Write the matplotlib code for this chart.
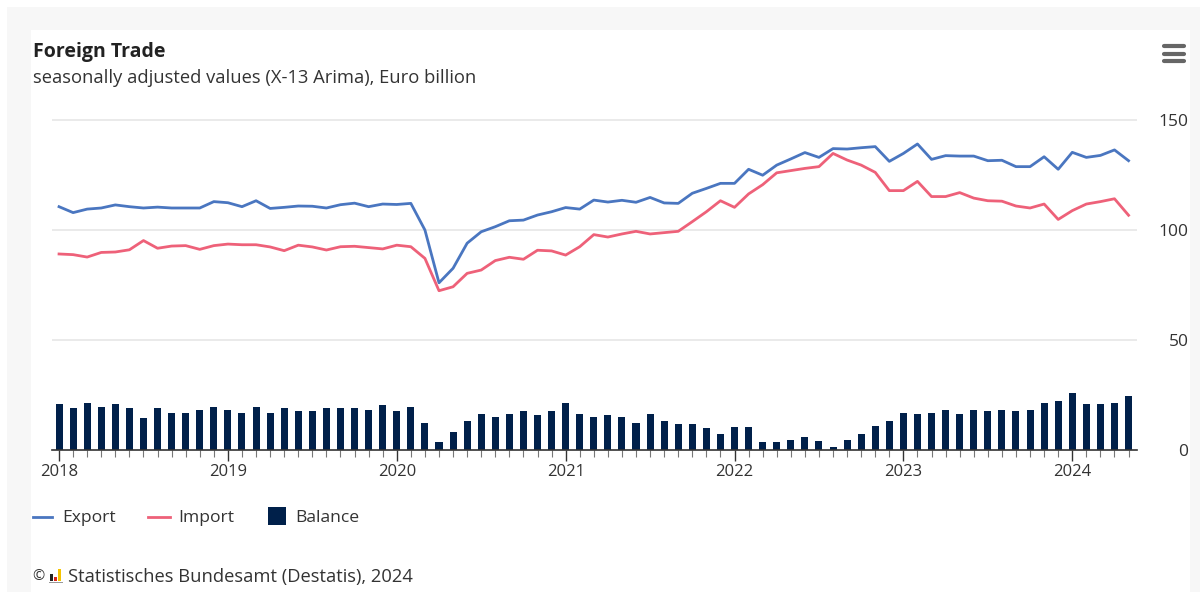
import numpy as np
import matplotlib
matplotlib.use("Agg")
import matplotlib.pyplot as plt
from matplotlib.patches import Rectangle
from matplotlib.lines import Line2D

# monthly values, Jan 2018 - May 2024, EUR billion
export = [110.6, 107.9, 109.5, 110.0, 111.4, 110.6, 110.0, 110.4, 110.0, 110.0, 110.0, 112.9,
          112.4, 110.6, 113.3, 109.8, 110.3, 110.9, 110.8, 110.0, 111.5, 112.2, 110.6, 111.8,
          111.6, 112.1, 100.0, 76.0, 82.6, 94.0, 99.2, 101.5, 104.2, 104.5, 106.8, 108.3,
          110.2, 109.5, 113.6, 112.7, 113.5, 112.6, 114.8, 112.3, 112.1, 116.7, 118.9, 121.2,
          121.2, 127.6, 124.9, 129.5, 132.3, 135.2, 133.0, 137.0, 136.8, 137.4, 137.9, 131.2,
          134.8, 139.1, 132.1, 133.8, 133.6, 133.6, 131.5, 131.7, 128.8, 128.8, 133.3, 127.6,
          135.3, 133.0, 133.9, 136.4, 131.5]
imports = [89.1, 88.8, 87.7, 89.8, 90.0, 91.0, 95.2, 91.7, 92.7, 92.9, 91.2, 92.9,
           93.6, 93.3, 93.3, 92.3, 90.6, 93.1, 92.3, 90.9, 92.4, 92.6, 92.0, 91.4,
           93.1, 92.4, 87.1, 72.4, 74.2, 80.3, 81.8, 86.1, 87.6, 86.7, 90.8, 90.5,
           88.6, 92.4, 97.9, 96.8, 98.2, 99.4, 98.2, 98.8, 99.4, 103.8, 108.3, 113.3,
           110.3, 116.4, 120.6, 126.0, 127.0, 128.0, 128.8, 134.8, 131.8, 129.5, 126.2, 117.9,
           117.9, 122.1, 115.2, 115.2, 117.0, 114.5, 113.3, 113.1, 110.9, 110.0, 111.8, 104.8,
           108.8, 111.8, 112.9, 114.2, 106.7]
balance = [20.9, 18.9, 21.5, 19.5, 20.9, 18.9, 14.4, 18.9, 17.0, 17.0, 18.2, 19.5,
           18.2, 17.0, 19.5, 17.0, 18.9, 17.6, 17.6, 18.9, 18.9, 18.9, 18.2, 20.3,
           17.6, 19.5, 12.4, 3.5, 8.0, 13.2, 16.4, 15.0, 16.4, 17.6, 15.8, 17.6,
           21.5, 16.4, 15.0, 15.8, 15.0, 12.4, 16.4, 13.2, 11.8, 11.8, 9.8, 7.3,
           10.5, 10.5, 3.5, 3.5, 4.7, 5.8, 3.9, 1.4, 4.7, 7.3, 11.0, 13.0,
           17.0, 16.4, 17.0, 18.2, 16.4, 18.2, 17.6, 18.2, 17.6, 18.2, 21.5, 22.1,
           26.0, 20.9, 20.9, 21.5, 24.7]
years = ["2018", "2019", "2020", "2021", "2022", "2023", "2024"]
y_ticks = [0, 50, 100, 150]

EXPORT_C = "#4a76c0"
IMPORT_C = "#ee6179"
BAL_C = "#00204a"
TXT_C = "#333333"

plt.rcParams['font.family'] = ['Open Sans', 'DejaVu Sans']

W, H = 1200, 592
fig = plt.figure(figsize=(W / 100, H / 100), dpi=100, facecolor="white")


def px(x, y):
    # pixel (from top-left) -> figure fraction
    return x / W, 1 - y / H


# background frame
fig.patches.append(Rectangle(px(7, 592), (W - 7) / W, (592 - 7) / H, transform=fig.transFigure,
                             facecolor="#f7f7f7", edgecolor="none", zorder=-10))
fig.patches.append(Rectangle(px(31, 592), (1190 - 31) / W, (592 - 30) / H, transform=fig.transFigure,
                             facecolor="white", edgecolor="none", zorder=-9))

x = np.arange(len(export))
left, right = px(52, 0)[0], px(1137, 0)[0]
bottom, top = px(0, 450)[1], px(0, 109)[1]
ax = fig.add_axes([left, bottom, right - left, top - bottom])
ax.set_facecolor("none")

ax.bar(x, balance, width=0.5, color=BAL_C, zorder=2)
ax.plot(x, export, color=EXPORT_C, lw=2, zorder=3)
ax.plot(x, imports, color=IMPORT_C, lw=2, zorder=3)

ax.set_xlim(-0.5, 76.6)
ax.set_ylim(0, 155)
for v in y_ticks[1:]:
    ax.axhline(v, color="#e6e6e6", lw=1.2, zorder=0)

for s in ["top", "right", "left"]:
    ax.spines[s].set_visible(False)
ax.spines["bottom"].set_color("#333333")
ax.spines["bottom"].set_linewidth(1.2)

ax.set_xticks(np.arange(len(years)) * 12)
ax.set_xticklabels(years)
ax.set_xticks(x, minor=True)
ax.tick_params(axis="x", which="major", length=8, width=1, color="#333333",
               labelsize=12, labelcolor=TXT_C, pad=2)
ax.tick_params(axis="x", which="minor", length=5, width=0.8, color="#777777")

ax.yaxis.tick_right()
ax.set_yticks(y_ticks)
ax.tick_params(axis="y", length=0, labelsize=12.5, labelcolor=TXT_C, pad=37)
for lab in ax.get_yticklabels():
    lab.set_horizontalalignment("right")

# titles
fig.text(*px(33, 52), "Foreign Trade", fontsize=14, fontweight="bold", color="#222222", va="center")
fig.text(*px(33, 78), "seasonally adjusted values (X-13 Arima), Euro billion", fontsize=13.2,
         color=TXT_C, va="center")

# hamburger menu
for yy in (46, 53.5, 61):
    fig.add_artist(Line2D([1164 / W, 1184 / W], [1 - yy / H] * 2, color="#666666", lw=3,
                          solid_capstyle="round"))

# legend
ly = 518
fig.add_artist(Line2D([33 / W, 52 / W], [1 - 517 / H] * 2, color=EXPORT_C, lw=2))
fig.text(*px(62, ly), "Export", fontsize=12.6, color=TXT_C, va="center")
fig.add_artist(Line2D([148 / W, 170 / W], [1 - 517 / H] * 2, color=IMPORT_C, lw=2))
fig.text(*px(178, ly), "Import", fontsize=12.6, color=TXT_C, va="center")
fig.patches.append(Rectangle(px(268, 525), 18 / W, 18 / H, transform=fig.transFigure,
                             facecolor=BAL_C, edgecolor="none"))
fig.text(*px(295, ly), "Balance", fontsize=12.6, color=TXT_C, va="center")

# footer with small logo
fy = 577
fig.text(*px(32, fy), "\u00a9", fontsize=10.5, color=TXT_C, va="center")
for bx, bh, bc in ((50, 7, "#222222"), (54, 4, "#d9261c"), (58, 12, "#f5c400")):
    fig.patches.append(Rectangle(px(bx, 581), 3 / W, bh / H, transform=fig.transFigure,
                                 facecolor=bc, edgecolor="none"))
fig.patches.append(Rectangle(px(49, 583), 14 / W, 1.5 / H, transform=fig.transFigure,
                             facecolor="#999999", edgecolor="none"))
fig.text(*px(68, fy), "Statistisches Bundesamt (Destatis), 2024", fontsize=13.2, color=TXT_C, va="center")

fig.savefig("out.png", dpi=100, facecolor="white")
